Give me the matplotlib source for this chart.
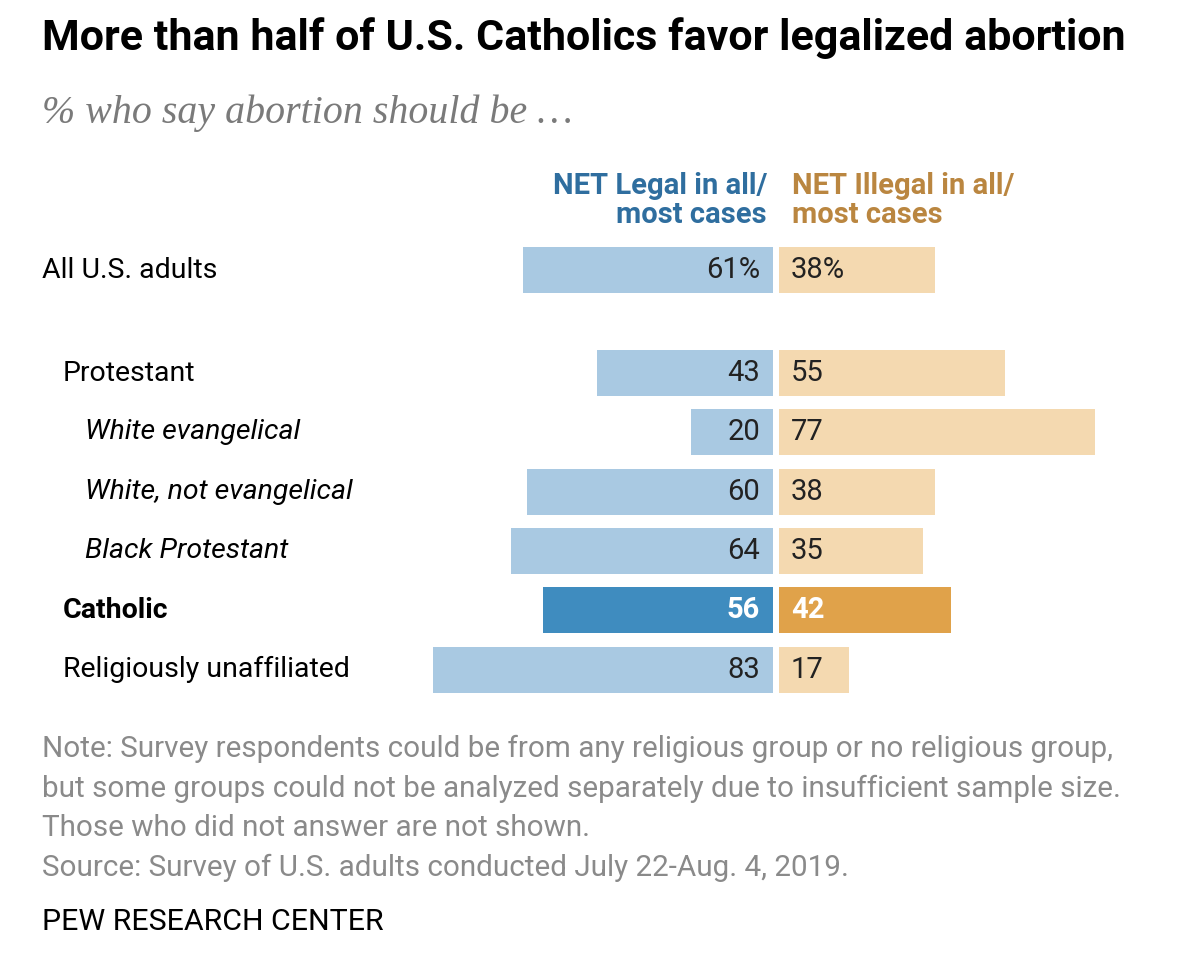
import matplotlib
matplotlib.use("Agg")
import matplotlib.pyplot as plt
from matplotlib import font_manager

categories = ["All U.S. adults", "Protestant", "White evangelical",
              "White, not evangelical", "Black Protestant", "Catholic",
              "Religiously unaffiliated"]
legal = [61, 43, 20, 60, 64, 56, 83]
illegal = [38, 55, 77, 38, 35, 42, 17]
legal_labels = ["61%", "43", "20", "60", "64", "56", "83"]
illegal_labels = ["38%", "55", "77", "38", "35", "42", "17"]
positions = [0, 1.74, 2.74, 3.74, 4.74, 5.74, 6.74]
indent_px = [42, 63, 85, 85, 85, 63, 63]
italic = [False, False, True, True, True, False, False]
highlight = [False, False, False, False, False, True, False]

W, H = 1179, 964
names = {f.name for f in font_manager.fontManager.ttflist}
SANS = "Liberation Sans Narrow" if "Liberation Sans Narrow" in names else "Roboto"
SERIF = "Liberation Serif"

fig = plt.figure(figsize=(W / 100, H / 100), dpi=100)
fig.patch.set_facecolor("white")

PX = 4.1          # pixels per percentage point
CENTER = 776      # pixel x of center gap
GAP = 6 / PX
ROW = 59.3        # pixels per row unit
Y0 = 270          # pixel y of first row

ax = fig.add_axes([0, 0, 1, 1])
ax.set_xlim(-CENTER / PX, (W - CENTER) / PX)
ax.set_ylim((H - Y0) / ROW, -Y0 / ROW)
ax.axis("off")

light_blue, dark_blue = "#A9C9E2", "#3F8CBF"
light_tan, dark_tan = "#F4D9B0", "#E0A24A"
bh = 46 / ROW
ax.barh(positions, [-v for v in legal], left=-GAP / 2, height=bh,
        color=[dark_blue if h else light_blue for h in highlight], linewidth=0)
ax.barh(positions, illegal, left=GAP / 2, height=bh,
        color=[dark_tan if h else light_tan for h in highlight], linewidth=0)

renderer = fig.canvas.get_renderer()

def fit(t, target_w):
    bb = t.get_window_extent(renderer=renderer)
    t.set_fontsize(t.get_fontsize() * target_w / bb.width)

def ftext(xp, yp, s, **kw):
    return fig.text(xp / W, 1 - yp / H, s, **kw)

LAB = 20.5
VAL = 21
for i, (cat, p) in enumerate(zip(categories, positions)):
    ax.text((indent_px[i] - CENTER) / PX, p, cat, ha="left", va="center",
            fontsize=LAB, family=SANS, color="black",
            style="italic" if italic[i] else "normal",
            weight="bold" if highlight[i] else "normal")
    ax.text(-GAP / 2 - 13 / PX, p, legal_labels[i], ha="right", va="center",
            fontsize=VAL, family=SANS,
            color="white" if highlight[i] else "#222222",
            weight="bold" if highlight[i] else "normal")
    ax.text(GAP / 2 + 12 / PX, p, illegal_labels[i], ha="left", va="center",
            fontsize=VAL, family=SANS,
            color="white" if highlight[i] else "#222222",
            weight="bold" if highlight[i] else "normal")

# headers
ax.text(-GAP / 2 - 6 / PX, -1.17, "NET Legal in all/\nmost cases", ha="right",
        va="center", fontsize=21, family=SANS, weight="bold",
        color="#2F6E9F", linespacing=1.05)
ax.text(GAP / 2 + 13 / PX, -1.17, "NET Illegal in all/\nmost cases", ha="left",
        va="center", fontsize=21, family=SANS, weight="bold",
        color="#BA8640", linespacing=1.05)

t = ftext(42, 38, "More than half of U.S. Catholics favor legalized abortion",
          ha="left", va="center", fontsize=26, family=SANS, weight="bold",
          color="black")
fit(t, 1083)
t = ftext(42, 113, "% who say abortion should be \u2026", ha="left", va="center",
          fontsize=22, family=SERIF, style="italic", color="#7A7A7A")
fit(t, 528)

notes = ["Note: Survey respondents could be from any religious group or no religious group,",
         "but some groups could not be analyzed separately due to insufficient sample size.",
         "Those who did not answer are not shown.",
         "Source: Survey of U.S. adults conducted July 22-Aug. 4, 2019."]
t0 = ftext(42, 749, notes[0], ha="left", va="center", fontsize=17,
           family=SANS, color="#8A8A8A")
fit(t0, 1071)
fs = t0.get_fontsize()
for k, line in enumerate(notes[1:], start=1):
    ftext(42, 749 + 39.5 * k, line, ha="left", va="center", fontsize=fs,
          family=SANS, color="#8A8A8A")
t = ftext(42, 922, "PEW RESEARCH CENTER", ha="left", va="center", fontsize=17,
          family=SANS, color="black")
fit(t, 342)

fig.savefig("out.png", dpi=100, facecolor="white")
